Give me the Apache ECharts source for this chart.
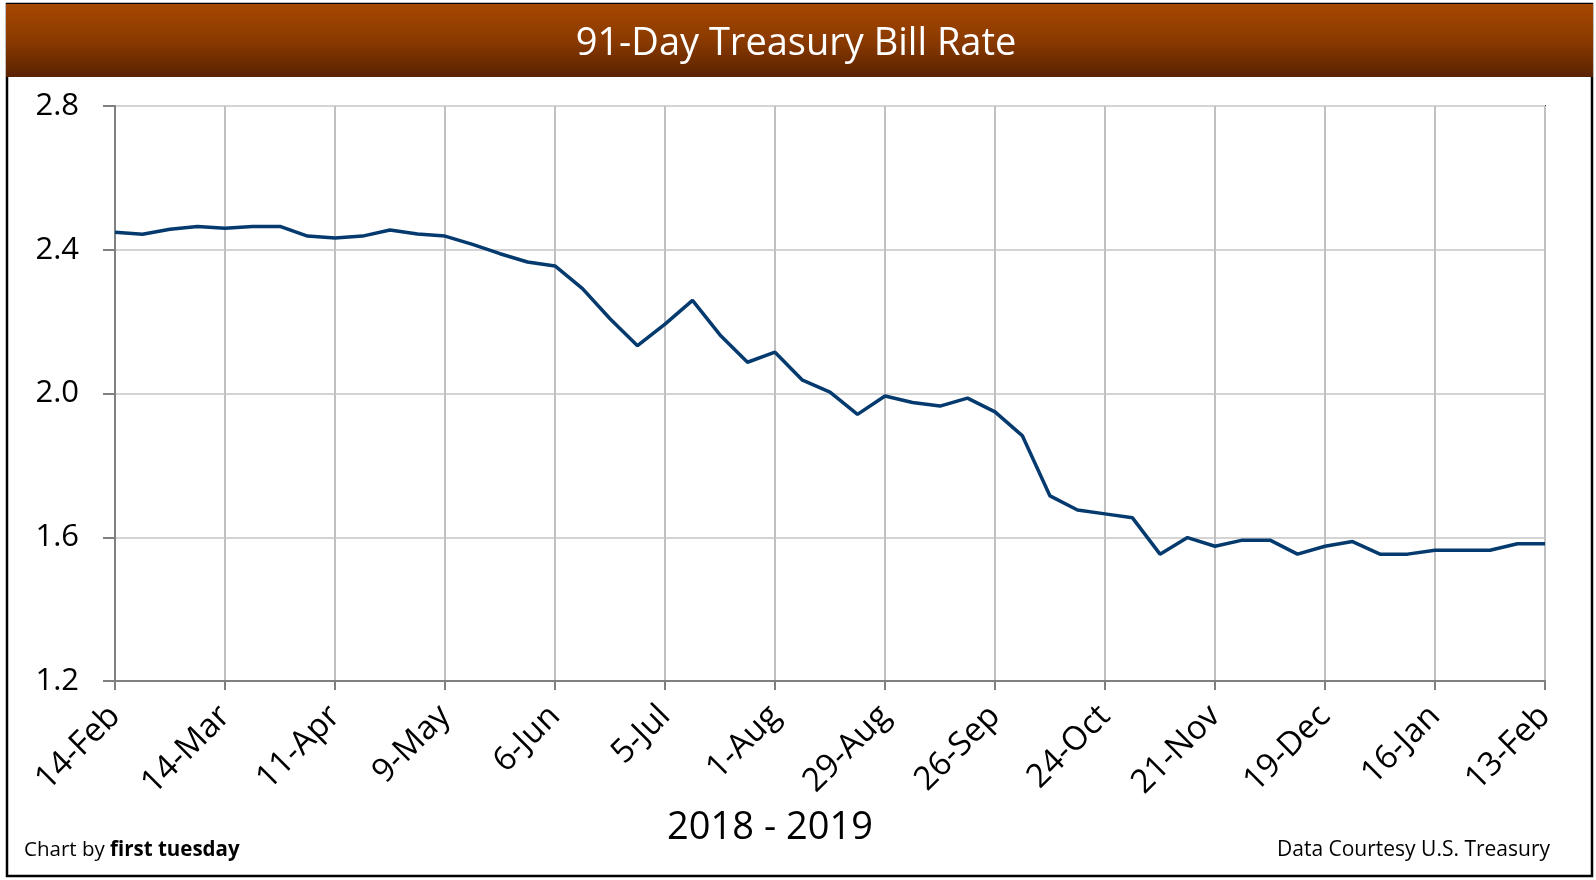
<!DOCTYPE html>
<html>
<head>
<meta charset="utf-8">
<title>91-Day Treasury Bill Rate</title>
<script src="https://cdn.jsdelivr.net/npm/echarts@6/dist/echarts.min.js"></script>
<style>
    html, body { margin: 0; padding: 0; background: #fff; }
    #chart { width: 1596px; height: 880px; }
</style>
</head>
<body>
<div id="chart"></div>
<script>
    // weekly auction dates, 2018 - 2019
    var weeks = [
        '14-Feb', '21-Feb', '28-Feb', '7-Mar', '14-Mar', '21-Mar', '28-Mar', '4-Apr', '11-Apr', '18-Apr',
        '25-Apr', '2-May', '9-May', '16-May', '23-May', '30-May', '6-Jun', '13-Jun', '20-Jun', '27-Jun',
        '5-Jul', '11-Jul', '18-Jul', '25-Jul', '1-Aug', '8-Aug', '15-Aug', '22-Aug', '29-Aug', '5-Sep',
        '12-Sep', '19-Sep', '26-Sep', '3-Oct', '10-Oct', '17-Oct', '24-Oct', '31-Oct', '7-Nov', '14-Nov',
        '21-Nov', '28-Nov', '5-Dec', '12-Dec', '19-Dec', '26-Dec', '2-Jan', '9-Jan', '16-Jan', '23-Jan',
        '30-Jan', '6-Feb', '13-Feb'
    ];

    var rates = [
        2.449, 2.443, 2.457, 2.465, 2.460, 2.465, 2.465, 2.438, 2.433, 2.438,
        2.455, 2.444, 2.438, 2.415, 2.389, 2.366, 2.355, 2.292, 2.208, 2.133,
        2.193, 2.259, 2.163, 2.087, 2.115, 2.037, 2.004, 1.942, 1.993, 1.975,
        1.965, 1.987, 1.949, 1.882, 1.715, 1.676, 1.665, 1.654, 1.553, 1.599,
        1.575, 1.592, 1.592, 1.553, 1.575, 1.588, 1.553, 1.553, 1.564, 1.564,
        1.564, 1.582, 1.582
    ];

    var yTicks = [1.2, 1.6, 2.0, 2.4, 2.8];

    var font = '"Open Sans", "DejaVu Sans", sans-serif';

    var chart = echarts.init(document.getElementById('chart'));
    chart.setOption({
        animation: false,
        backgroundColor: '#fff',
        textStyle: { fontFamily: font },
        grid: {
            left: 115,
            right: 51,
            top: 106,
            bottom: 199,
            show: true,
            borderColor: '#404040',
            borderWidth: 2
        },
        xAxis: {
            type: 'category',
            data: weeks,
            boundaryGap: false,
            axisLine: { lineStyle: { color: '#808080', width: 2 } },
            axisTick: { interval: 3, length: 9, lineStyle: { color: '#808080', width: 2 } },
            axisLabel: {
                interval: 3,
                rotate: 45,
                margin: 30,
                color: '#000',
                fontSize: 33,
                fontFamily: font
            },
            splitLine: { show: true, interval: 3, lineStyle: { color: '#c0c0c0', width: 2 } }
        },
        yAxis: {
            type: 'value',
            min: yTicks[0],
            max: yTicks[yTicks.length - 1],
            interval: 0.4,
            axisLine: { show: true, lineStyle: { color: '#808080', width: 2 } },
            axisTick: { show: true, length: 12, lineStyle: { color: '#808080', width: 2 } },
            axisLabel: {
                margin: 36,
                color: '#000',
                fontSize: 31,
                fontFamily: font,
                padding: [0, 0, 5, 0],
                formatter: function (v) { return v.toFixed(1); }
            },
            splitLine: { show: true, lineStyle: { color: '#d4d4d4', width: 2 } }
        },
        series: [{
            type: 'line',
            data: rates,
            symbol: 'none',
            lineStyle: { color: '#053a6e', width: 3.5 },
            z: 5
        }],
        graphic: [
            {
                type: 'rect',
                shape: { x: 7, y: 4, width: 1585, height: 872 },
                style: { fill: 'none', stroke: '#000', lineWidth: 2.5 },
                z: 1
            },
            {
                type: 'rect',
                shape: { x: 6, y: 4, width: 1587, height: 73 },
                style: {
                    fill: new echarts.graphic.LinearGradient(0, 0, 0, 1, [
                        { offset: 0, color: '#a64800' },
                        { offset: 0.5, color: '#8a3a00' },
                        { offset: 1, color: '#5a2200' }
                    ])
                },
                z: 2
            },
            {
                type: 'text',
                x: 796,
                y: 44,
                style: {
                    text: '91-Day Treasury Bill Rate',
                    fill: '#fff',
                    font: '38px ' + font,
                    align: 'center',
                    verticalAlign: 'middle'
                },
                z: 3
            },
            {
                type: 'text',
                x: 770,
                y: 828,
                style: {
                    text: '2018 - 2019',
                    fill: '#000',
                    font: '38px ' + font,
                    align: 'center',
                    verticalAlign: 'middle'
                },
                z: 3
            },
            {
                type: 'text',
                x: 24,
                y: 850,
                style: {
                    text: '{a|Chart by }{b|first tuesday}',
                    verticalAlign: 'middle',
                    rich: {
                        a: { fontSize: 20.5, fontFamily: font, color: '#000' },
                        b: { fontSize: 20.5, fontFamily: font, fontWeight: 'bold', color: '#000' }
                    }
                },
                z: 3
            },
            {
                type: 'text',
                x: 1550,
                y: 850,
                style: {
                    text: 'Data Courtesy U.S. Treasury',
                    fill: '#000',
                    font: '21px ' + font,
                    align: 'right',
                    verticalAlign: 'middle'
                },
                z: 3
            }
        ]
    });
</script>
</body>
</html>
